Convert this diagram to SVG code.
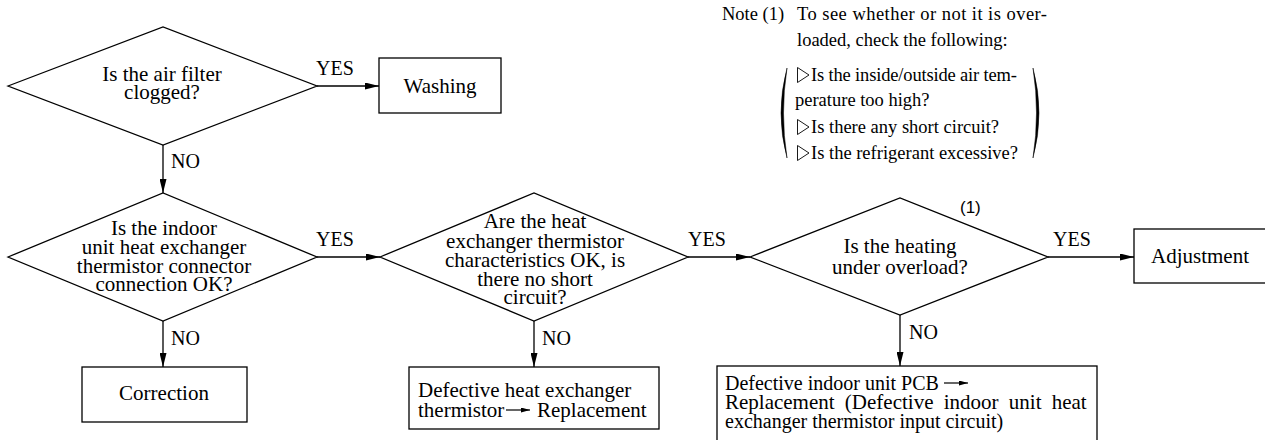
<svg xmlns="http://www.w3.org/2000/svg" width="1265" height="440" viewBox="0 0 1265 440">
<defs>
<style>
.s{fill:#fff;stroke:#000;stroke-width:1.3}
.c{fill:none;stroke:#000;stroke-width:1.3}
.t{font-family:"Liberation Serif","Times New Roman",serif;font-size:21px;fill:#000}
.p{font-family:"Liberation Serif","Times New Roman",serif;font-size:20px;fill:#000}
.m{text-anchor:middle}
.l{font-family:"Liberation Serif","Times New Roman",serif;font-size:20px;fill:#000}
.n{font-family:"Liberation Serif","Times New Roman",serif;font-size:18.5px;fill:#000}
.tri{fill:none;stroke:#000;stroke-width:0.9}
.sa{fill:none;stroke:#000;stroke-width:1.2}
</style>
<marker id="ah" markerUnits="userSpaceOnUse" markerWidth="14" markerHeight="7" refX="14" refY="3.5" orient="auto">
<path d="M0,0 L14,3.5 L0,7 Z" fill="#000"/>
</marker>
<marker id="sh" markerUnits="userSpaceOnUse" markerWidth="9" markerHeight="5" refX="9" refY="2.5" orient="auto">
<path d="M0,0 L9,2.5 L0,5 Z" fill="#000"/>
</marker>
</defs>
<rect width="1265" height="440" fill="#fff"/>

<g id="connectors">
<line class="c" x1="317" y1="86" x2="379" y2="86" marker-end="url(#ah)"/>
<line class="c" x1="163" y1="145" x2="163" y2="193" marker-end="url(#ah)"/>
<line class="c" x1="317" y1="257" x2="380" y2="257" marker-end="url(#ah)"/>
<line class="c" x1="163" y1="321" x2="163" y2="367" marker-end="url(#ah)"/>
<line class="c" x1="688" y1="257" x2="750" y2="257" marker-end="url(#ah)"/>
<line class="c" x1="534" y1="321" x2="534" y2="367" marker-end="url(#ah)"/>
<line class="c" x1="1048" y1="257" x2="1134" y2="257" marker-end="url(#ah)"/>
<line class="c" x1="900" y1="315" x2="900" y2="366" marker-end="url(#ah)"/>
<text class="l" x="316" y="75">YES</text>
<text class="l" x="171" y="168">NO</text>
<text class="l" x="316" y="246">YES</text>
<text class="l" x="171" y="345">NO</text>
<text class="l" x="688" y="246">YES</text>
<text class="l" x="542" y="345">NO</text>
<text class="l" x="1053" y="246">YES</text>
<text class="l" x="909" y="339">NO</text>
</g>

<g id="d1">
<polygon class="s" points="8,86 163,27 317,86 163,145"/>
<text class="t m" x="162" y="81">Is the air filter</text>
<text class="t m" x="162" y="99">clogged?</text>
</g>

<g id="washing">
<rect class="s" x="379" y="58" width="122" height="55"/>
<text class="t m" x="440" y="93">Washing</text>
</g>

<g id="d2">
<polygon class="s" points="8,257 163,193 317,257 163,321"/>
<text class="t m" x="164" y="235">Is the indoor</text>
<text class="t m" x="164" y="254">unit heat exchanger</text>
<text class="t m" x="164" y="272.5">thermistor connector</text>
<text class="t m" x="164" y="291">connection OK?</text>
</g>

<g id="correction">
<rect class="s" x="82" y="367" width="165" height="55"/>
<text class="t m" x="164" y="400">Correction</text>
</g>

<g id="d3">
<polygon class="s" points="380,257 534,193 688,257 534,321"/>
<text class="t m" x="535" y="228">Are the heat</text>
<text class="t m" x="535" y="247.5">exchanger thermistor</text>
<text class="t m" x="535" y="267">characteristics OK, is</text>
<text class="t m" x="535" y="285.5">there no short</text>
<text class="t m" x="535" y="304">circuit?</text>
</g>

<g id="defective-thermistor">
<rect class="s" x="409" y="367" width="250" height="62"/>
<text class="t" x="418" y="397">Defective heat exchanger</text>
<text class="t" x="418" y="417">thermistor</text>
<line class="sa" x1="506" y1="410" x2="530" y2="410" marker-end="url(#sh)"/>
<text class="t" x="537" y="417">Replacement</text>
</g>

<g id="d4">
<polygon class="s" points="750,257 900,198 1048,257 900,315"/>
<text class="t m" x="900" y="253">Is the heating</text>
<text class="t m" x="900" y="274">under overload?</text>
<text x="960" y="212.5" style="font-family:'Liberation Sans',Arial,sans-serif;font-size:17px;fill:#000">(1)</text>
</g>

<g id="adjustment">
<rect class="s" x="1134" y="229" width="140" height="54"/>
<text class="t" x="1151" y="263">Adjustment</text>
</g>

<g id="defective-pcb">
<rect class="s" x="717" y="366" width="380" height="80"/>
<text class="p" x="725" y="390">Defective indoor unit PCB</text>
<line class="sa" x1="944" y1="383" x2="968" y2="383" marker-end="url(#sh)"/>
<text class="t" x="725" y="409" style="word-spacing:5px">Replacement (Defective indoor unit heat</text>
<text class="p" x="725" y="427.5">exchanger thermistor input circuit)</text>
</g>

<g id="note">
<text class="n" x="722" y="20">Note (1)</text>
<text class="n" x="797" y="20" textLength="250" lengthAdjust="spacing">To see whether or not it is over-</text>
<text class="n" x="797" y="46">loaded, check the following:</text>
<path d="M787,68 Q775,113 787,158 Q780,113 787,68 Z" fill="#000" stroke="#000" stroke-width="0.5"/>
<path d="M1033,68 Q1045,113 1033,158 Q1040,113 1033,68 Z" fill="#000" stroke="#000" stroke-width="0.5"/>
<polygon class="tri" points="797.5,67.5 809,75 797.5,82.5"/>
<text class="n" x="811" y="81" textLength="206" lengthAdjust="spacing">Is the inside/outside air tem-</text>
<text class="n" x="795" y="106">perature too high?</text>
<polygon class="tri" points="797.5,119.5 809,127 797.5,134.5"/>
<text class="n" x="811" y="133">Is there any short circuit?</text>
<polygon class="tri" points="797.5,145.5 809,153 797.5,160.5"/>
<text class="n" x="811" y="159">Is the refrigerant excessive?</text>
</g>
</svg>
